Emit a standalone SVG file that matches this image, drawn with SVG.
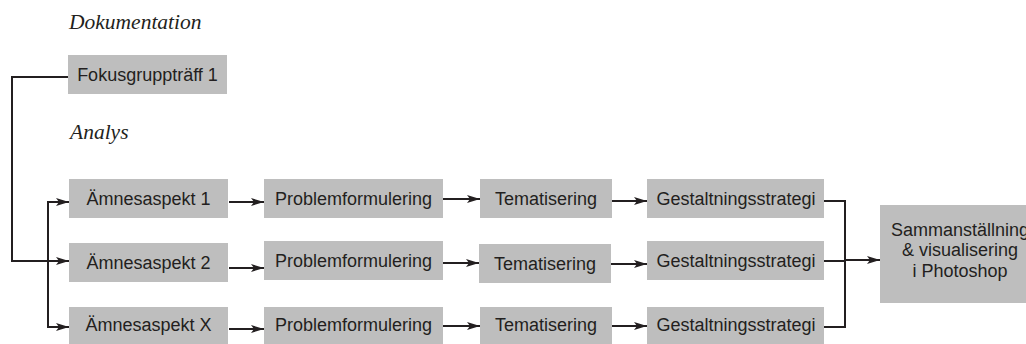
<svg xmlns="http://www.w3.org/2000/svg" width="1026" height="344" viewBox="0 0 1026 344">
<style>
.box{fill:#bebebe}
.t{font-family:"Liberation Sans",Arial,sans-serif;font-size:18px;fill:#231f20;text-anchor:middle}
.h{font-family:"Liberation Serif","Times New Roman",serif;font-style:italic;font-size:21.5px;fill:#231f20}
.c{fill:none;stroke:#231f20;stroke-width:2}
.a{fill:none;stroke:#231f20;stroke-width:2;marker-end:url(#ah)}
</style>
<defs>
<marker id="ah" markerUnits="userSpaceOnUse" markerWidth="14" markerHeight="10" refX="13" refY="5" orient="auto">
<path d="M0,1 L13,5 L0,9 L3,5 Z" fill="#231f20"/>
</marker>
</defs>
<rect width="1026" height="344" fill="#ffffff"/>
<text class="h" x="69" y="29">Dokumentation</text>
<text class="h" x="70" y="139">Analys</text>

<g id="connectors">
<polyline class="c" points="68,77 12,77 12,261 48,261"/>
<path class="a" d="M47,261 H69"/>
<polyline class="c" points="69,202 48,202 48,327 69,327"/>
<path class="a" d="M48,202 H69"/>
<path class="a" d="M48,327 H69"/>
<path class="a" d="M229,202 H264"/>
<path class="a" d="M229,268 H264"/>
<path class="a" d="M229,329 H264"/>
<path class="a" d="M443,199 H480"/>
<path class="a" d="M443,263 H479"/>
<path class="a" d="M443,326 H480"/>
<path class="a" d="M612,201 H647"/>
<path class="a" d="M611,264 H647"/>
<path class="a" d="M612,326 H647"/>
<polyline class="c" points="824,201 845,201 845,327 824,327"/>
<path class="c" d="M824,261 H845"/>
<path class="a" d="M845,260 H880"/>
</g>

<g id="n-fokus"><rect class="box" x="68" y="55" width="159" height="39"/><text class="t" x="147.5" y="81">Fokusgruppträff 1</text></g>

<g id="n-a1"><rect class="box" x="69" y="179" width="159" height="39"/><text class="t" x="148.5" y="205">Ämnesaspekt 1</text></g>
<g id="n-a2"><rect class="box" x="69" y="243" width="159" height="39"/><text class="t" x="148.5" y="269">Ämnesaspekt 2</text></g>
<g id="n-ax"><rect class="box" x="69" y="307" width="159" height="37"/><text class="t" x="148.5" y="330.5">Ämnesaspekt X</text></g>

<g id="n-p1"><rect class="box" x="264" y="179" width="179" height="39"/><text class="t" x="353.5" y="205">Problemformulering</text></g>
<g id="n-p2"><rect class="box" x="264" y="241" width="179" height="39"/><text class="t" x="353.5" y="267">Problemformulering</text></g>
<g id="n-p3"><rect class="box" x="264" y="307" width="179" height="37"/><text class="t" x="353.5" y="331">Problemformulering</text></g>

<g id="n-t1"><rect class="box" x="480" y="179" width="132" height="39"/><text class="t" x="546" y="205">Tematisering</text></g>
<g id="n-t2"><rect class="box" x="479" y="244" width="132" height="39"/><text class="t" x="545" y="270">Tematisering</text></g>
<g id="n-t3"><rect class="box" x="480" y="307" width="132" height="37"/><text class="t" x="546" y="331">Tematisering</text></g>

<g id="n-g1"><rect class="box" x="647" y="179" width="177" height="39"/><text class="t" x="736" y="205">Gestaltningsstrategi</text></g>
<g id="n-g2"><rect class="box" x="647" y="241" width="177" height="39"/><text class="t" x="736" y="267">Gestaltningsstrategi</text></g>
<g id="n-g3"><rect class="box" x="647" y="307" width="177" height="37"/><text class="t" x="736" y="331">Gestaltningsstrategi</text></g>

<g id="n-samman"><rect class="box" x="880" y="205" width="160" height="98"/>
<text class="t" x="960" y="235.5">Sammanställning</text>
<text class="t" x="960" y="256">&amp; visualisering</text>
<text class="t" x="960" y="276.5">i Photoshop</text></g>
</svg>
